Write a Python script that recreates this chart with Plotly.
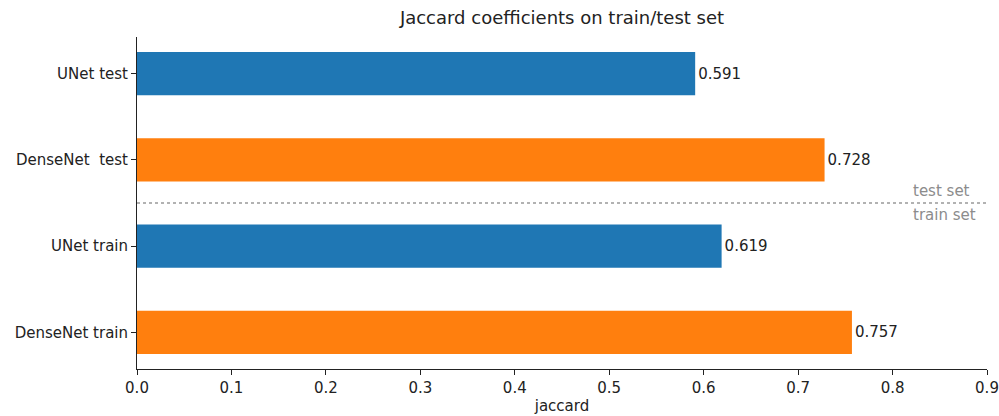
import plotly.graph_objects as go

# Bars listed bottom-to-top
labels = ["DenseNet train", "UNet train", "DenseNet  test", "UNet test"]
scores = [0.757, 0.619, 0.728, 0.591]
colors = ["#ff7f0e", "#1f77b4", "#ff7f0e", "#1f77b4"]
x_ticks = [0.0, 0.1, 0.2, 0.3, 0.4, 0.5, 0.6, 0.7, 0.8, 0.9]
split_pos = 1.5

positions = list(range(len(labels)))
FONT = "DejaVu Sans"
FS = 15

fig = go.Figure()
fig.add_trace(go.Bar(
    x=scores,
    y=positions,
    orientation="h",
    width=0.5,
    marker=dict(color=colors, line=dict(width=0)),
    text=[f"{v:.3f}" for v in scores],
    textposition="outside",
    textfont=dict(family=FONT, size=FS, color="#222"),
    cliponaxis=False,
    hoverinfo="skip",
))

# Separator between train and test rows
fig.add_shape(type="line", x0=0, x1=0.9, y0=split_pos, y1=split_pos,
              xref="x", yref="y",
              line=dict(color="#999999", width=1.5, dash="dot"))
fig.add_annotation(x=0.819, y=split_pos, xref="x", yref="y", text="test set",
                   showarrow=False, xanchor="left", yanchor="bottom", yshift=1,
                   font=dict(family=FONT, size=FS, color="#8c8c8c"))
fig.add_annotation(x=0.819, y=split_pos, xref="x", yref="y", text="train set",
                   showarrow=False, xanchor="left", yanchor="top", yshift=-1,
                   font=dict(family=FONT, size=FS, color="#8c8c8c"))

fig.update_layout(
    width=999, height=416,
    margin=dict(l=137, r=12, t=37, b=47),
    paper_bgcolor="white", plot_bgcolor="white",
    showlegend=False,
    font=dict(family=FONT, size=FS, color="#222"),
    title=dict(text="Jaccard coefficients on train/test set",
               x=(137 + 987) / 2 / 999, xanchor="center",
               y=1 - 18 / 416, yanchor="middle",
               font=dict(family=FONT, size=18, color="#222")),
    xaxis=dict(range=[0, 0.9], tickvals=x_ticks,
               ticktext=[f"{t:.1f}" for t in x_ticks],
               showgrid=False, zeroline=False, automargin=False,
               showline=True, linecolor="#222", linewidth=1,
               ticks="outside", ticklen=5, tickcolor="#222",
               tickfont=dict(family=FONT, size=FS, color="#222"),
               title=dict(text="jaccard", standoff=4,
                          font=dict(family=FONT, size=FS, color="#222"))),
    yaxis=dict(range=[-0.425, 3.425], tickvals=positions, ticktext=labels,
               showgrid=False, zeroline=False, automargin=False,
               showline=True, linecolor="#222", linewidth=1,
               ticks="outside", ticklen=5, tickcolor="#222",
               tickfont=dict(family=FONT, size=FS, color="#222")),
)

fig.write_html("out.html")
